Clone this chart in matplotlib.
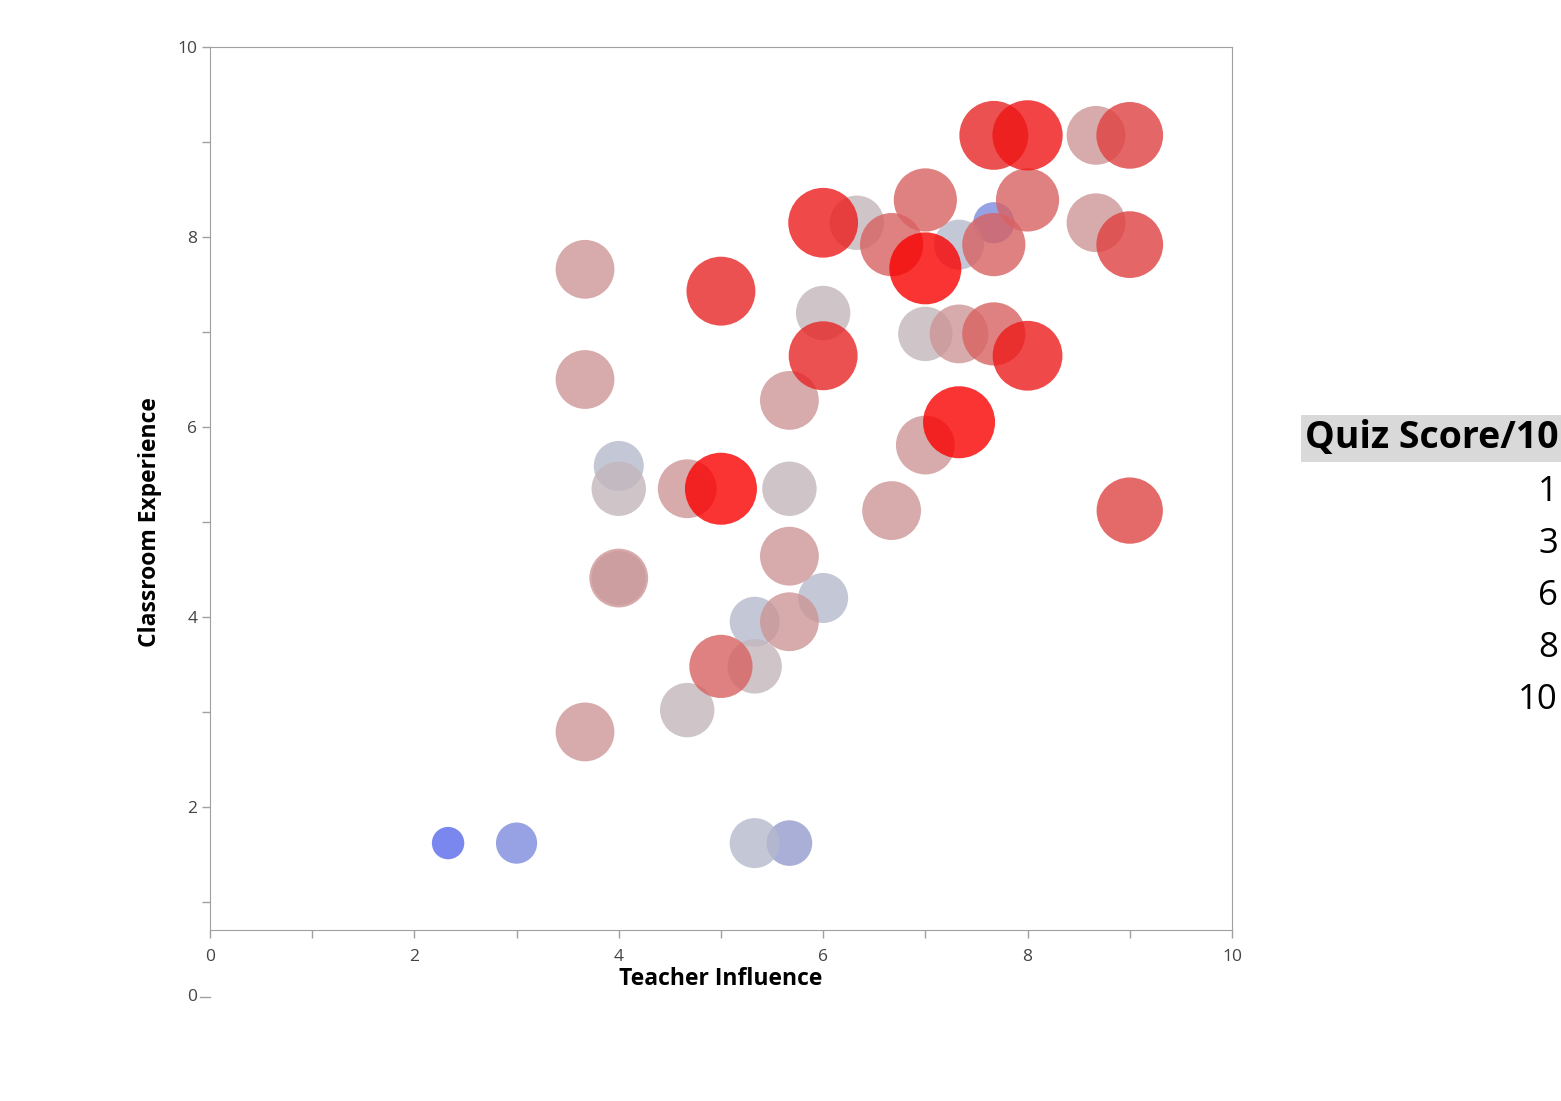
"""Bubble plot: classroom experience vs teacher influence, sized/coloured by quiz score"""
import numpy as np
import matplotlib.pyplot as plt
import matplotlib.lines as mlines
from matplotlib.colors import LinearSegmentedColormap

plt.rcParams['font.family'] = ['Open Sans', 'DejaVu Sans']

# values
teacher_influence = [2.33, 3.0, 5.33, 5.67, 3.67, 4.67, 5.0, 5.33, 5.33, 5.67,
                     6.0, 4.0, 4.0, 5.67, 4.0, 4.0, 4.67, 5.0, 5.67, 6.67,
                     9.0, 7.0, 7.33, 5.67, 3.67, 6.0, 8.0, 7.0, 7.33, 7.67,
                     6.0, 5.0, 3.67, 6.0, 6.33, 6.67, 7.0, 7.33, 7.67, 7.67,
                     7.0, 8.0, 8.67, 9.0, 7.67, 8.0, 8.67, 9.0]
classroom_experience = [1.62, 1.62, 1.62, 1.62, 2.79, 3.02, 3.48, 3.48, 3.95, 3.95,
                        4.2, 4.41, 4.41, 4.64, 5.59, 5.35, 5.35, 5.35, 5.35, 5.12,
                        5.12, 5.81, 6.05, 6.28, 6.5, 6.75, 6.75, 6.98, 6.98, 6.98,
                        7.2, 7.43, 7.66, 8.15, 8.15, 7.92, 7.67, 7.92, 8.15, 7.92,
                        8.39, 8.39, 8.15, 7.92, 9.07, 9.07, 9.07, 9.07]
quiz_score = [1, 3, 5, 4, 7, 6, 8, 6, 5, 7,
              5, 7, 6, 7, 5, 6, 7, 10, 6, 7,
              8.7, 7, 10, 7, 7, 9.3, 9.5, 6, 7, 8,
              6, 9.3, 7, 9.5, 6, 8, 10, 5, 3, 8,
              8, 8, 7, 8.8, 9.3, 9.6, 7, 8.8]
legend_levels = [1, 3, 6, 8, 10]

x = np.array(teacher_influence)
y = np.array(classroom_experience)
q = np.array(quiz_score)

# blue -> grey -> red, like JMP's default continuous bubble colouring
cmap = LinearSegmentedColormap.from_list("quiz", [
    (0 / 9, (89 / 255, 105 / 255, 236 / 255)),
    (2 / 9, (124 / 255, 139 / 255, 221 / 255)),
    (3 / 9, (149 / 255, 155 / 255, 205 / 255)),
    (4 / 9, (181 / 255, 185 / 255, 204 / 255)),
    (5 / 9, (195 / 255, 182 / 255, 187 / 255)),
    (6 / 9, (205 / 255, 149 / 255, 150 / 255)),
    (7 / 9, (217 / 255, 99 / 255, 99 / 255)),
    (8 / 9, (224 / 255, 55 / 255, 55 / 255)),
    (9 / 9, (249 / 255, 0 / 255, 0 / 255)),
])

radius_px = 14 + 2.2 * q
sizes = (1.44 * radius_px) ** 2
order = np.argsort(q, kind="stable")

fig = plt.figure(figsize=(15.61, 11.01), dpi=100)
ax = fig.add_axes([0.1345, 0.1553, 0.6547, 0.802])
ax.scatter(x[order], y[order], s=sizes[order], c=q[order], cmap=cmap,
           vmin=1, vmax=10, alpha=0.8, linewidths=0, zorder=3)

ax.set_xlim(0, 10)
ax.set_ylim(0.705, 10)
ax.set_xticks([0, 2, 4, 6, 8, 10])
ax.set_xticks([1, 3, 5, 7, 9], minor=True)
ax.set_yticks([2, 4, 6, 8, 10])
ax.set_yticks([1, 3, 5, 7, 9], minor=True)
for sp in ax.spines.values():
    sp.set_color('#a0a0a0')
ax.tick_params(which='both', colors='#a0a0a0', labelcolor='#444444',
               labelsize=12.5, length=6, width=1)
ax.tick_params(axis='x', which='both', pad=8)
ax.tick_params(axis='y', which='both', pad=3)

# JMP draws the 0 y tick below the frame
ytr = ax.get_yaxis_transform()
ax.add_line(mlines.Line2D([-0.0097, 0], [0, 0], transform=ytr, color='#a0a0a0',
                          lw=1, clip_on=False))
ax.text(-0.0127, 0, "0", transform=ytr, ha='right', va='center',
        fontsize=12.5, color='#444444', clip_on=False)

ax.text(0.5, -0.055, "Teacher Influence", transform=ax.transAxes,
        ha='center', va='center', fontsize=16.5, fontweight='bold')
ax.text(-0.0587, 5.0, "Classroom Experience", transform=ytr, rotation=90,
        ha='center', va='center', fontsize=16.5, fontweight='bold')

# legend (text only, as in the reference)
fig.text(0.9985, 1 - 438 / 1101, "Quiz Score/10", ha='right', va='center',
         fontsize=27, fontweight='bold',
         bbox=dict(boxstyle='square,pad=0.12', fc='#d9d9d9', ec='none'))
for i, lv in enumerate(legend_levels):
    fig.text(0.998, 1 - (492 + i * 52) / 1101, str(lv), ha='right',
             va='center', fontsize=25)

plt.savefig("out.png", dpi=100)
